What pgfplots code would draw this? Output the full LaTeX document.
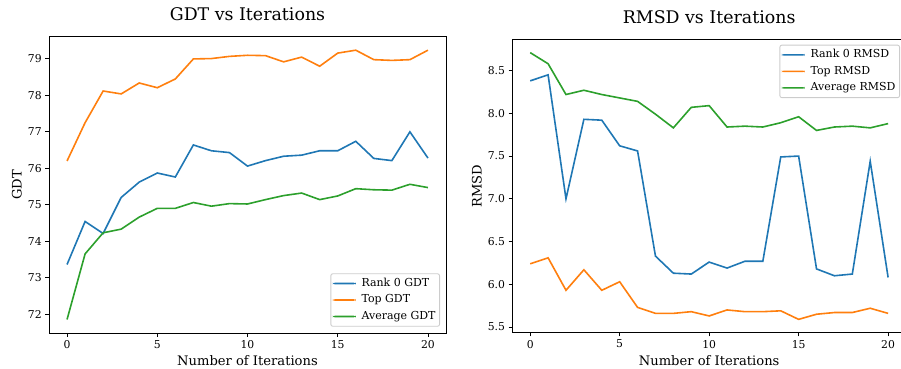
\documentclass[border=0pt]{standalone}
\usepackage{fontspec}
\setmainfont{DejaVu Serif}
\usepackage{pgfplots}
\pgfplotsset{compat=1.18}
\definecolor{c0}{HTML}{1F77B4}
\definecolor{c1}{HTML}{FF7F0E}
\definecolor{c2}{HTML}{2CA02C}
\pgfplotsset{
  mpl/.style={
    scale only axis,
    axis line style={line width=0.87bp},
    every tick/.style={black, line width=0.87bp},
    tick align=outside, tick pos=left,
    major tick length=3.8bp,
    /pgf/number format/assume math mode=true,
    tick label style={font=\fontsize{10.8bp}{13bp}\selectfont},
    every axis title/.style={at={(0.5,1)}, anchor=base, font=\fontsize{17.4bp}{20bp}\selectfont},
    every axis x label/.style={at={(axis description cs:0.5,-0.108)}, anchor=base, font=\fontsize{13.1bp}{15bp}\selectfont},
    every axis y label/.style={at={(axis description cs:-0.07,0.5)}, rotate=90, anchor=base, font=\fontsize{13.1bp}{15bp}\selectfont},
    xmin=-1, xmax=21,
    xtick={0,5,10,15,20},
    no markers,
    every axis plot/.append style={line width=1.6bp},
    legend cell align=left,
    legend image code/.code={\fill[#1, draw=none] (0bp,-0.8bp) rectangle (23bp,0.8bp);},
    legend style={font=\fontsize{11bp}{13bp}\selectfont, draw=black!20, fill=white, rounded corners=2bp, line width=0.87bp, inner xsep=2bp, inner ysep=2.5bp, row sep=2bp, nodes={inner sep=2bp, text height=8bp, text depth=2.5bp}, /tikz/every odd column/.append style={column sep=3.7bp}},
  }
}
\begin{document}
\begin{tikzpicture}
\useasboundingbox (0,0) rectangle (901bp,369bp);
\begin{axis}[mpl, at={(49bp,36bp)}, anchor=south west, width=397bp, height=296.3bp,
  ymin=71.48, ymax=79.61, ytick={72,73,74,75,76,77,78,79},
  title={GDT vs Iterations}, title style={yshift=16bp},
  xlabel={Number of Iterations}, ylabel={GDT},
  xlabel style={at={(axis description cs:0.5,-0.108)}},
  ylabel style={at={(axis description cs:-0.0688,0.5)}},
  legend style={at={(axis description cs:1,0)}, anchor=south east, xshift=-6bp, yshift=6.3bp}]
\addplot[c0] coordinates {(0,73.36) (1,74.54) (2,74.21) (3,75.20) (4,75.62) (5,75.87) (6,75.76) (7,76.64) (8,76.48) (9,76.43) (10,76.06) (11,76.21) (12,76.33) (13,76.36) (14,76.48) (15,76.48) (16,76.74) (17,76.27) (18,76.21) (19,77.00) (20,76.28)};
\addlegendentry{Rank 0 GDT}
\addplot[c1] coordinates {(0,76.20) (1,77.25) (2,78.12) (3,78.04) (4,78.34) (5,78.21) (6,78.45) (7,79.00) (8,79.01) (9,79.07) (10,79.10) (11,79.09) (12,78.92) (13,79.05) (14,78.80) (15,79.16) (16,79.24) (17,78.98) (18,78.96) (19,78.98) (20,79.24)};
\addlegendentry{Top GDT}
\addplot[c2] coordinates {(0,71.85) (1,73.65) (2,74.23) (3,74.33) (4,74.66) (5,74.90) (6,74.90) (7,75.06) (8,74.96) (9,75.03) (10,75.02) (11,75.14) (12,75.25) (13,75.32) (14,75.14) (15,75.24) (16,75.44) (17,75.41) (18,75.40) (19,75.56) (20,75.47)};
\addlegendentry{Average GDT}
\end{axis}
\begin{axis}[mpl, at={(512.3bp,36.3bp)}, anchor=south west, width=393.7bp, height=293.4bp,
  ymin=5.434, ymax=8.866, ytick={5.5,6,6.5,7,7.5,8,8.5},
  yticklabel style={/pgf/number format/.cd, fixed, fixed zerofill, precision=1},
  title={RMSD vs Iterations}, title style={yshift=15.3bp},
  xlabel={Number of Iterations}, ylabel={RMSD},
  xlabel style={at={(axis description cs:0.5,-0.111)}},
  ylabel style={at={(axis description cs:-0.0777,0.5)}},
  legend style={at={(axis description cs:1,1)}, anchor=north east, xshift=-6bp, yshift=-5.4bp}]
\addplot[c0] coordinates {(0,8.38) (1,8.45) (2,7.00) (3,7.93) (4,7.92) (5,7.62) (6,7.56) (7,6.33) (8,6.13) (9,6.12) (10,6.26) (11,6.19) (12,6.27) (13,6.27) (14,7.49) (15,7.50) (16,6.18) (17,6.10) (18,6.12) (19,7.44) (20,6.08)};
\addlegendentry{Rank 0 RMSD}
\addplot[c1] coordinates {(0,6.24) (1,6.31) (2,5.93) (3,6.17) (4,5.93) (5,6.03) (6,5.73) (7,5.66) (8,5.66) (9,5.68) (10,5.63) (11,5.70) (12,5.68) (13,5.68) (14,5.69) (15,5.59) (16,5.65) (17,5.67) (18,5.67) (19,5.72) (20,5.66)};
\addlegendentry{Top RMSD}
\addplot[c2] coordinates {(0,8.71) (1,8.58) (2,8.22) (3,8.27) (4,8.22) (5,8.18) (6,8.14) (7,7.99) (8,7.83) (9,8.07) (10,8.09) (11,7.84) (12,7.85) (13,7.84) (14,7.89) (15,7.96) (16,7.80) (17,7.84) (18,7.85) (19,7.83) (20,7.88)};
\addlegendentry{Average RMSD}
\end{axis}
\end{tikzpicture}
\end{document}
